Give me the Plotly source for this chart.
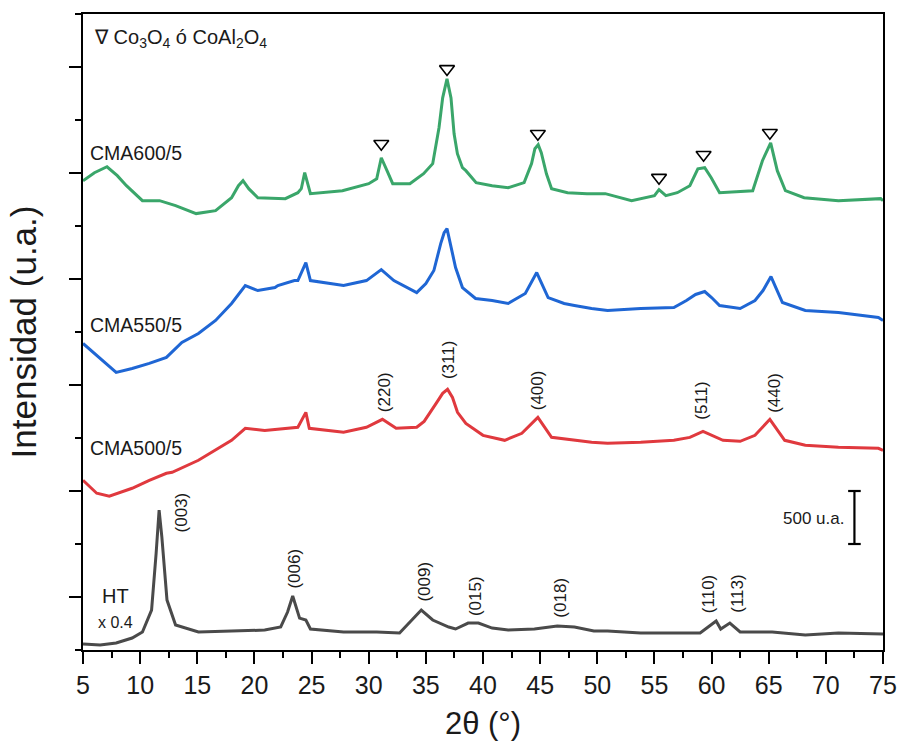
import plotly.graph_objects as go

# ---- data (2θ in degrees, intensity in u.a., offsets already applied) ----
ht_x = [5.0, 6.5, 7.9, 9.3, 10.2, 11.0, 11.4, 11.66, 11.9, 12.35, 13.1, 15.1, 18.0, 20.9, 22.3, 22.9,
        23.35, 23.95, 24.5, 24.9, 27.8, 30.7, 32.7, 33.55, 34.6, 35.6, 37.0, 37.6, 38.7, 39.6, 40.8,
        42.2, 44.5, 46.5, 48.0, 49.7, 50.9, 53.8, 56.7, 59.0, 60.4, 60.8, 61.6, 62.5, 65.3, 68.2, 71.1, 74.8, 75.0]
ht_y = [57, 47, 66, 113, 170, 377, 914, 1319, 1064, 471, 236, 170, 179, 188, 217, 358,
        509, 301, 283, 198, 170, 170, 160, 254, 377, 283, 217, 198, 254, 254, 207,
        188, 198, 226, 217, 179, 179, 160, 160, 160, 273, 198, 254, 170, 170, 141, 160, 151, 151]

c500_x = [5.0, 6.2, 7.3, 9.3, 10.8, 12.3, 12.8, 15.1, 18.0, 19.2, 20.9, 23.5, 23.8, 24.5, 24.8, 27.8,
          29.8, 31.2, 32.4, 34.2, 34.85, 35.9, 36.47, 36.9, 37.33, 37.77, 38.5, 40.0, 41.9, 43.4, 44.8,
          46.0, 48.0, 49.5, 50.9, 53.8, 56.7, 58.1, 59.25, 61.0, 62.5, 63.8, 65.1, 66.4, 68.2, 71.1,
          74.6, 75.0]
c500_y = [1601, 1479, 1451, 1526, 1601, 1667, 1677, 1790, 1978, 2091, 2072, 2101, 2101, 2242, 2091, 2054,
          2101, 2176, 2091, 2101, 2157, 2327, 2421, 2459, 2383, 2242, 2138, 2025, 1978, 2044, 2195,
          2006, 1978, 1959, 1950, 1959, 1978, 2006, 2063, 1978, 1969, 2025, 2176, 1978, 1931, 1912,
          1903, 1884]

c550_x = [5.0, 5.8, 6.5, 7.5, 7.9, 9.3, 10.8, 12.3, 13.65, 15.1, 16.6, 18.0, 18.5, 19.2, 20.3, 21.8,
          22.05, 23.5, 23.8, 24.5, 24.9, 27.8, 29.8, 31.1, 32.2, 34.2, 35.0, 35.7, 36.3, 36.6, 36.85,
          37.1, 37.6, 38.2, 39.35, 40.8, 42.2, 43.7, 44.7, 45.7, 47.1, 48.0, 49.5, 50.9, 53.8, 56.7,
          57.8, 58.6, 59.4, 60.0, 60.7, 62.5, 63.8, 64.5, 65.2, 65.7, 66.2, 68.2, 71.1, 74.6, 75.0]
c550_y = [2892, 2817, 2751, 2656, 2619, 2656, 2704, 2760, 2901, 2986, 3109, 3269, 3344, 3438, 3391, 3419,
          3438, 3485, 3485, 3655, 3485, 3438, 3485, 3589, 3485, 3372, 3457, 3580, 3834, 3937, 3975,
          3862, 3608, 3419, 3316, 3297, 3269, 3363, 3561, 3325, 3269, 3250, 3222, 3203, 3222, 3231,
          3297, 3354, 3382, 3325, 3250, 3222, 3297, 3391, 3523, 3400, 3278, 3203, 3184, 3137, 3109]

c600_x = [5.0, 6.0, 7.1, 8.0, 8.8, 10.2, 11.7, 13.1, 14.9, 16.6, 18.0, 18.6, 19.0, 19.5, 20.3, 22.7,
          23.8, 24.1, 24.4, 24.7, 24.9, 27.7, 30.0, 30.7, 31.1, 31.6, 32.1, 33.6, 34.8, 35.6, 36.15,
          36.47, 36.85, 37.2, 37.47, 37.76, 38.2, 38.5, 39.4, 40.8, 42.2, 43.6, 44.25, 44.54, 44.83,
          45.1, 45.55, 46.0, 47.4, 49.1, 50.7, 53.0, 55.0, 55.4, 56.0, 57.0, 58.1, 58.8, 59.4, 59.97,
          60.7, 63.6, 64.45, 65.17, 65.75, 66.46, 68.1, 71.1, 74.8, 75.0]
c600_y = [4427, 4503, 4559, 4475, 4380, 4239, 4239, 4192, 4117, 4145, 4267, 4380, 4427, 4352, 4267, 4258,
          4314, 4352, 4503, 4380, 4305, 4333, 4399, 4446, 4644, 4522, 4399, 4399, 4493, 4588, 4927,
          5209, 5388, 5209, 4870, 4682, 4550, 4522, 4409, 4380, 4361, 4409, 4588, 4729, 4767,
          4691, 4493, 4352, 4314, 4305, 4305, 4239, 4286, 4343, 4286, 4314, 4380, 4540, 4550, 4456,
          4314, 4333, 4616, 4785, 4522, 4333, 4267, 4239, 4258, 4239]

spinel_x = [31.1, 36.85, 44.8, 55.4, 59.3, 65.1]
spinel_y = [4776, 5482, 4870, 4456, 4672, 4880]

hkl_spinel = ["(220)", "(311)", "(400)", "(511)", "(440)"]
hkl_spinel_x = [31.4, 37.0, 44.8, 59.1, 65.5]
hkl_spinel_y = [2430, 2732, 2449, 2355, 2430]

hkl_ht = ["(003)", "(006)", "(009)", "(015)", "(018)", "(110)", "(113)"]
hkl_ht_x = [13.6, 23.5, 34.8, 39.3, 46.7, 59.7, 62.2]
hkl_ht_y = [1300, 772, 641, 509, 490, 528, 528]

scale_x = [72.5, 72.5]
scale_y = [1000, 1500]

xticks = list(range(5, 80, 5))

# ---- figure ----
FONT = "Liberation Sans, Arial, sans-serif"
TXT = "#1a1a1a"
fig = go.Figure()
series = [
    (ht_x, ht_y, "#4a4a4a", "HT"),
    (c500_x, c500_y, "#e0393e", "CMA500/5"),
    (c550_x, c550_y, "#1f66d4", "CMA550/5"),
    (c600_x, c600_y, "#3aa66a", "CMA600/5"),
]
for xs, ys, col, name in series:
    fig.add_trace(go.Scatter(x=xs, y=ys, mode="lines", name=name,
                             line=dict(color=col, width=3), showlegend=False))

fig.add_trace(go.Scatter(x=spinel_x, y=spinel_y, mode="markers", showlegend=False,
                         marker=dict(symbol="triangle-down-open", size=13, color="black",
                                     line=dict(width=1.6, color="black"))))

fig.add_trace(go.Scatter(x=scale_x, y=scale_y, mode="lines+markers", showlegend=False,
                         line=dict(color="black", width=2.2),
                         marker=dict(symbol="line-ew-open", size=9, color="black",
                                     line=dict(width=2.2, color="black"))))

for t, x, y in zip(hkl_spinel, hkl_spinel_x, hkl_spinel_y):
    fig.add_annotation(x=x, y=y, text=t, showarrow=False, textangle=-90,
                       font=dict(size=17, color=TXT, family=FONT))
for t, x, y in zip(hkl_ht, hkl_ht_x, hkl_ht_y):
    fig.add_annotation(x=x, y=y, text=t, showarrow=False, textangle=-90,
                       font=dict(size=17, color=TXT, family=FONT))

labels = [("CMA600/5", 5.4, 4691), ("CMA550/5", 5.4, 3062), ("CMA500/5", 5.4, 1903)]
for t, x, y in labels:
    fig.add_annotation(x=x, y=y, text=t, showarrow=False, xanchor="left",
                       font=dict(size=19.5, color=TXT, family=FONT))

fig.add_annotation(x=7.8, y=505, text="HT", showarrow=False,
                   font=dict(size=20, color=TXT, family=FONT))
fig.add_annotation(x=7.8, y=260, text="x 0.4", showarrow=False,
                   font=dict(size=16, color=TXT, family=FONT))
fig.add_annotation(x=5.8, y=5765, text="∇ Co<sub>3</sub>O<sub>4</sub> ó CoAl<sub>2</sub>O<sub>4</sub>",
                   showarrow=False, xanchor="left",
                   font=dict(size=20, color=TXT, family=FONT))
fig.add_annotation(x=71.8, y=1243, text="500 u.a.", showarrow=False, xanchor="right",
                   font=dict(size=17, color=TXT, family=FONT))

fig.update_layout(
    width=909, height=747,
    margin=dict(l=83, r=17, t=13, b=97),
    plot_bgcolor="white", paper_bgcolor="white",
    font=dict(family=FONT, color=TXT),
    xaxis=dict(range=[5, 75], tickmode="array", tickvals=xticks, ticktext=[str(v) for v in xticks],
               ticks="outside", ticklen=12, tickwidth=2, tickcolor="black",
               minor=dict(ticks="outside", ticklen=6, tickwidth=2, tickcolor="black", dtick=2.5, tick0=5),
               showline=True, linewidth=2, linecolor="black", mirror=True,
               showgrid=False, zeroline=False,
               tickfont=dict(size=25, family=FONT, color=TXT),
               title=dict(text="2θ (°)", font=dict(size=31, family=FONT, color=TXT), standoff=14)),
    yaxis=dict(range=[0, 6000], tick0=500, dtick=1000,
               ticks="outside", ticklen=12, tickwidth=2, tickcolor="black",
               minor=dict(ticks="outside", ticklen=6, tickwidth=2, tickcolor="black", dtick=500, tick0=0),
               showticklabels=False,
               showline=True, linewidth=2, linecolor="black", mirror=True,
               showgrid=False, zeroline=False,
               title=dict(text="Intensidad (u.a.)", font=dict(size=35, family=FONT, color=TXT), standoff=22)),
)

fig.write_html("out.html")
